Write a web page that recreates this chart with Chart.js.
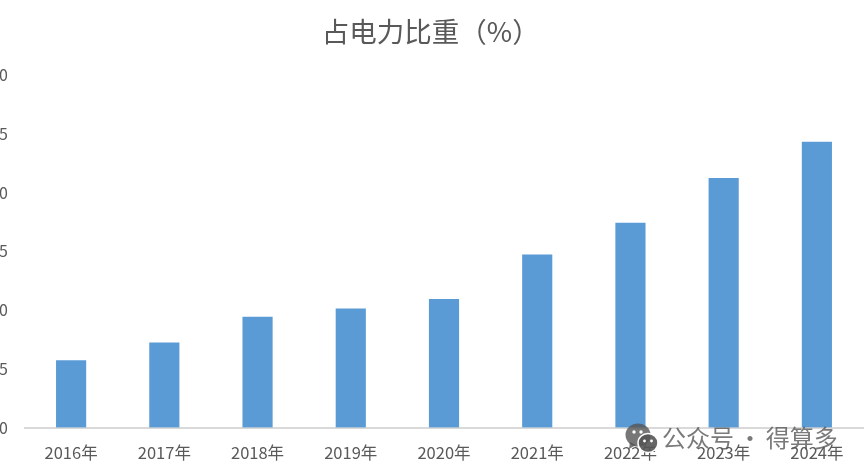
<!DOCTYPE html>
<html lang="zh-CN">
<head>
<meta charset="utf-8">
<title>占电力比重（%）</title>
<script src="https://cdn.jsdelivr.net/npm/chart.js@4"></script>
<style>
    html, body { margin: 0; background: #fff; overflow: hidden; }
    body { position: relative; width: 865px; height: 472px; }
    /* the reference is cropped on the left, so the canvas starts off-screen */
    #chart { position: absolute; left: -2px; top: 0; }
    .watermark {
        position: absolute; left: 625px; top: 418px; height: 36px;
        display: flex; align-items: center; gap: 4px;
        font: 24px "Noto Sans CJK SC", sans-serif; color: rgba(85, 85, 85, 0.78);
        word-spacing: -1.5px; white-space: nowrap;
    }
</style>
</head>
<body>
<canvas id="chart" width="867" height="472"></canvas>
<div class="watermark">
    <svg width="33" height="32" viewBox="0 0 33 32" style="margin-top:4px">
        <ellipse cx="13" cy="13" rx="12.5" ry="11.5" fill="rgba(85,85,85,0.8)"/>
        <path d="M5 20 L4 27 L11 23 Z" fill="rgba(85,85,85,0.8)"/>
        <ellipse cx="23" cy="21" rx="10" ry="9.5" fill="rgba(85,85,85,0.9)" stroke="#fff" stroke-width="1.5"/>
        <circle cx="9" cy="10" r="1.7" fill="#fff"/><circle cx="16" cy="10" r="1.7" fill="#fff"/>
        <circle cx="19.5" cy="19" r="1.4" fill="#fff"/><circle cx="26.5" cy="19" r="1.4" fill="#fff"/>
    </svg>
    <span>公众号 · 得算多</span>
</div>
<script>
const years = ['2016年', '2017年', '2018年', '2019年', '2020年', '2021年', '2022年', '2023年', '2024年'];
const shareValues = [5.7, 7.2, 9.4, 10.1, 10.9, 14.7, 17.4, 21.2, 24.3];
const chartTitle = '占电力比重（%）';
const yMax = 30;
const yStep = 5;

const fontFamily = '"Noto Sans CJK SC", sans-serif';
const textColor = '#595959';

new Chart(document.getElementById('chart').getContext('2d'), {
    type: 'bar',
    data: {
        labels: years,
        datasets: [{
            data: shareValues,
            backgroundColor: '#5b9bd5',
            barThickness: 29.5
        }]
    },
    options: {
        responsive: false,
        animation: false,
        layout: { padding: { right: 1.5 } },
        plugins: {
            legend: { display: false },
            tooltip: { enabled: false },
            title: {
                display: true,
                text: chartTitle,
                color: textColor,
                font: { family: fontFamily, size: 27.5, weight: 'normal' },
                padding: { top: 15, bottom: 27 }
            }
        },
        scales: {
            x: {
                grid: { display: false },
                border: { color: '#d9d9d9', width: 2 },
                ticks: {
                    color: textColor,
                    padding: 7,
                    maxRotation: 0,
                    font: { family: fontFamily, size: 16.5 }
                },
                afterFit: scale => { scale.height = 44.5; }
            },
            y: {
                min: 0,
                max: yMax,
                grid: { display: false, drawTicks: false },
                border: { display: false },
                ticks: {
                    stepSize: yStep,
                    color: textColor,
                    padding: 16.5,
                    font: { family: fontFamily, size: 16 }
                },
                afterFit: scale => { scale.width = 26.5; }
            }
        }
    }
});
</script>
</body>
</html>
